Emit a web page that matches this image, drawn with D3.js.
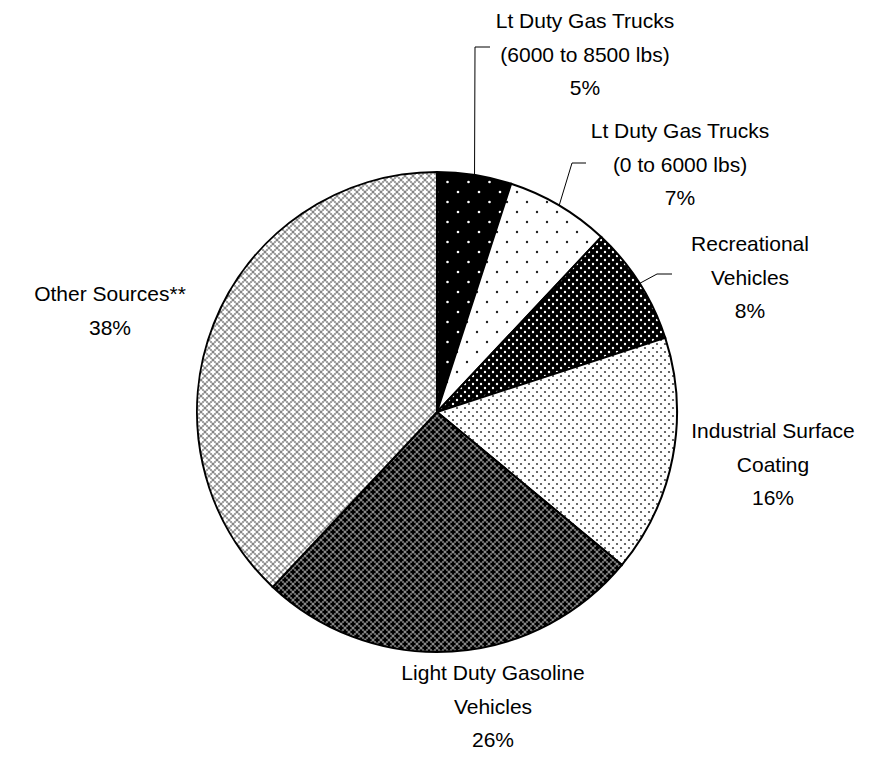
<!DOCTYPE html>
<meta charset="utf-8">
<title>Emission sources pie</title>
<style>
body { margin: 0; background: #fff; }
text { font-family: "Liberation Sans", Arial, sans-serif; font-size: 21px; fill: #000; }
.slice { stroke: #000; stroke-width: 2; }
.leader { fill: none; stroke: #000; stroke-width: 1; }
</style>
<body>
<script src="https://d3js.org/d3.v7.min.js"></script>
<script>

// data, clockwise from 12 o'clock
var labels = [
  ["Lt Duty Gas Trucks", "(6000 to 8500 lbs)"],
  ["Lt Duty Gas Trucks", "(0 to 6000 lbs)"],
  ["Recreational", "Vehicles"],
  ["Industrial Surface", "Coating"],
  ["Light Duty Gasoline", "Vehicles"],
  ["Other Sources**"]
];
var values = [5, 7, 8, 16, 26, 38];

// layout only: label centre x / first baseline, and leader elbows
var labelPos = [[585, 28], [680, 138], [750, 251], [773, 438], [493, 680], [110, 301]];
var leaders = {0: [[475, 47], [490, 47]], 1: [[572, 163], [586, 163]], 2: [[657, 274], [672, 274]]};
var patternIds = ["p1", "p2", "p3", "p4", "p5", "p6"];

var width = 895, height = 757,
    cx = 437, cy = 412, radius = 240, lineH = 33.5;

var svg = d3.select("body").append("svg")
    .attr("width", width)
    .attr("height", height);

var defs = svg.append("defs");

function dotPattern(id, w, h, bg, fg, r) {
  var p = defs.append("pattern").attr("id", id)
      .attr("patternUnits", "userSpaceOnUse")
      .attr("width", w).attr("height", h);
  p.append("rect").attr("width", w).attr("height", h).attr("fill", bg);
  [[0, 0], [w, 0], [0, h], [w, h], [w / 2, h / 2]].forEach(function(d) {
    p.append("circle").attr("cx", d[0]).attr("cy", d[1]).attr("r", r).attr("fill", fg);
  });
}

function crossPattern(id, bg, cross, dot) {
  var s = 8;
  var p = defs.append("pattern").attr("id", id)
      .attr("patternUnits", "userSpaceOnUse")
      .attr("width", s).attr("height", s);
  p.append("rect").attr("width", s).attr("height", s).attr("fill", bg);
  [[0, 0], [s, 0], [0, s], [s, s], [s / 2, s / 2]].forEach(function(d) {
    p.append("rect").attr("x", d[0] - 2.5).attr("y", d[1] - 1).attr("width", 5).attr("height", 2).attr("fill", cross);
    p.append("rect").attr("x", d[0] - 1).attr("y", d[1] - 2.5).attr("width", 2).attr("height", 5).attr("fill", cross);
  });
  [[s / 2, 0], [0, s / 2], [s, s / 2], [s / 2, s]].forEach(function(d) {
    p.append("rect").attr("x", d[0] - 0.5).attr("y", d[1] - 0.5).attr("width", 1).attr("height", 1).attr("fill", dot);
  });
}

dotPattern("p1", 21, 20, "#000", "#fff", 1.3);
dotPattern("p2", 20, 20, "#fff", "#222", 1.2);
dotPattern("p3", 8, 8, "#000", "#fff", 1.2);
dotPattern("p4", 8, 8, "#fff", "#444", 1.1);
crossPattern("p5", "#666", "#000", "#fff");
crossPattern("p6", "#a4a4a4", "#fff", "#222");

var pie = d3.pie().sort(null).value(function(d) { return d; });
var arc = d3.arc().innerRadius(0).outerRadius(radius);
var arcs = pie(values);

var g = svg.append("g").attr("transform", "translate(" + cx + "," + cy + ")");

g.selectAll(".slice")
    .data(arcs)
  .enter().append("path")
    .attr("class", "slice")
    .attr("d", arc)
    .attr("fill", function(d, i) { return "url(#" + patternIds[i] + ")"; });

// leader lines from the arc midpoint on the rim
arcs.forEach(function(d, i) {
  if (!leaders[i]) return;
  var a = (d.startAngle + d.endAngle) / 2;
  var start = [cx + radius * Math.sin(a), cy - radius * Math.cos(a)];
  svg.append("path")
      .attr("class", "leader")
      .attr("d", d3.line()([start].concat(leaders[i])));
});

// labels
labels.forEach(function(lines, i) {
  var t = svg.append("text")
      .attr("text-anchor", "middle")
      .attr("x", labelPos[i][0])
      .attr("y", labelPos[i][1]);
  lines.concat([values[i] + "%"]).forEach(function(s, j) {
    t.append("tspan")
        .attr("x", labelPos[i][0])
        .attr("dy", j === 0 ? 0 : lineH)
        .text(s);
  });
});

</script>
</body>
